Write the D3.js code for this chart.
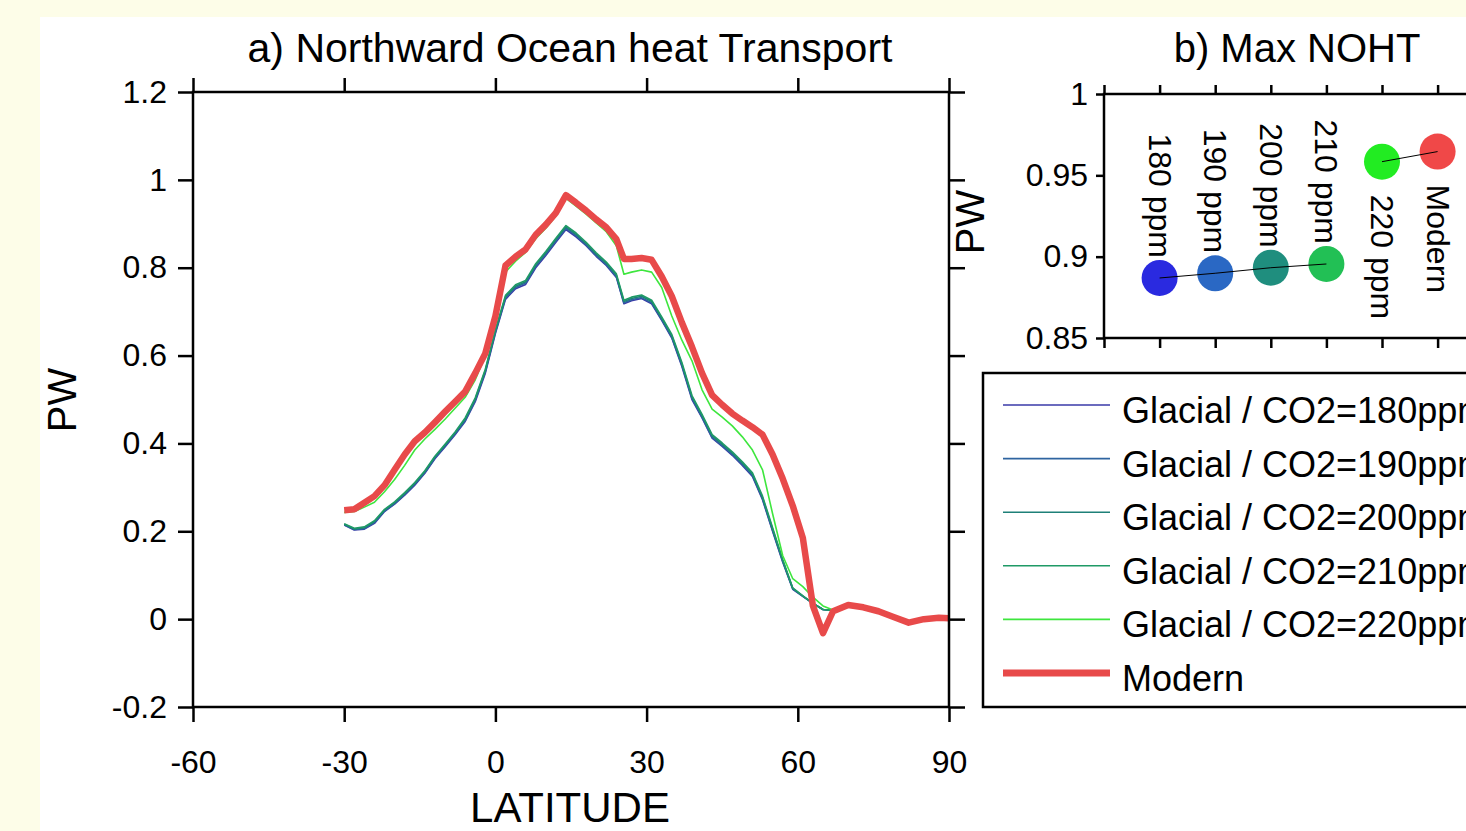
<!DOCTYPE html>
<html>
<head>
<meta charset="utf-8">
<script src="https://cdn.jsdelivr.net/npm/d3@7"></script>
<style>
body { margin: 0; background: #fdfde8; overflow: hidden; }
svg { display: block; font-family: "Liberation Sans", Arial, sans-serif; }
.axis text { font-size: 32px; fill: #000; }
.axis line { stroke: #000; stroke-width: 2.5; }
</style>
</head>
<body>
<svg id="chart" width="1466" height="831"></svg>
<script>

// latitude grid shared by all the transport curves
var latitudes = [-30,-28,-26,-24,-22,-20,-18,-16,-14,-12,-10,-8,-6,-4,-2,0,2,4,6,8,10,12,14,16,18,20,22,24,25.5,27,29,31,33,35,37,39,41,43,45,47,49,51,53,55,57,59,61,63,65,67,70,73,76,79,82,85,88,90];

var glacial180 = [0.214,0.203,0.205,0.218,0.245,0.262,0.282,0.305,0.332,0.365,0.392,0.420,0.450,0.495,0.560,0.650,0.728,0.752,0.762,0.800,0.828,0.858,0.887,0.870,0.850,0.826,0.805,0.778,0.718,0.725,0.730,0.718,0.680,0.640,0.575,0.500,0.458,0.412,0.393,0.373,0.350,0.325,0.272,0.200,0.130,0.068,0.052,0.036,0.022,0.020,0.031,0.026,0.017,0.004,-0.008,0.000,0.003,0.002];
var glacial190 = [0.215,0.204,0.206,0.220,0.246,0.263,0.284,0.307,0.334,0.367,0.394,0.422,0.452,0.498,0.563,0.653,0.731,0.755,0.765,0.803,0.831,0.861,0.890,0.873,0.852,0.828,0.807,0.780,0.720,0.727,0.732,0.720,0.682,0.642,0.578,0.503,0.460,0.414,0.395,0.375,0.352,0.327,0.274,0.202,0.132,0.069,0.052,0.036,0.022,0.020,0.031,0.026,0.017,0.004,-0.008,0.000,0.003,0.002];
var glacial200 = [0.216,0.205,0.208,0.222,0.248,0.265,0.286,0.309,0.336,0.369,0.396,0.424,0.455,0.501,0.566,0.656,0.734,0.758,0.768,0.806,0.834,0.864,0.893,0.876,0.855,0.831,0.810,0.783,0.723,0.730,0.735,0.723,0.685,0.645,0.581,0.506,0.463,0.417,0.398,0.378,0.355,0.330,0.277,0.205,0.134,0.070,0.053,0.036,0.022,0.020,0.031,0.026,0.017,0.004,-0.008,0.000,0.003,0.002];
var glacial210 = [0.217,0.207,0.210,0.224,0.250,0.267,0.288,0.311,0.338,0.371,0.398,0.426,0.458,0.504,0.569,0.659,0.737,0.761,0.771,0.809,0.837,0.867,0.896,0.879,0.858,0.834,0.813,0.786,0.726,0.733,0.738,0.726,0.688,0.648,0.584,0.509,0.466,0.420,0.401,0.381,0.358,0.333,0.280,0.208,0.136,0.071,0.053,0.036,0.022,0.020,0.031,0.026,0.017,0.004,-0.008,0.000,0.003,0.002];
var glacial220 = [0.243,0.245,0.255,0.266,0.290,0.318,0.350,0.385,0.410,0.432,0.455,0.480,0.505,0.545,0.600,0.680,0.790,0.815,0.835,0.866,0.890,0.918,0.958,0.940,0.922,0.902,0.882,0.850,0.785,0.790,0.795,0.790,0.755,0.690,0.635,0.588,0.522,0.478,0.460,0.440,0.415,0.385,0.340,0.240,0.145,0.092,0.074,0.050,0.030,0.021,0.031,0.027,0.018,0.005,-0.008,0.000,0.003,0.002];
var modern = [0.248,0.250,0.265,0.280,0.305,0.340,0.375,0.405,0.425,0.448,0.472,0.495,0.518,0.560,0.605,0.690,0.805,0.825,0.842,0.875,0.898,0.925,0.965,0.948,0.930,0.910,0.892,0.865,0.820,0.820,0.822,0.818,0.780,0.735,0.675,0.620,0.560,0.510,0.488,0.468,0.452,0.437,0.420,0.375,0.320,0.258,0.185,0.030,-0.032,0.018,0.032,0.027,0.018,0.005,-0.008,0.000,0.003,0.002];

var seriesNames = ["Glacial / CO2=180ppm", "Glacial / CO2=190ppm", "Glacial / CO2=200ppm",
    "Glacial / CO2=210ppm", "Glacial / CO2=220ppm", "Modern"];
var seriesValues = [glacial180, glacial190, glacial200, glacial210, glacial220, modern];
var lineColors = ["#3a3aa8", "#2e64a0", "#1e8078", "#1f9a66", "#3ee63e", "#e84a4a"];

// panel b: maximum northward heat transport per run
var maxLabels = ["180 ppm", "190 ppm", "200 ppm", "210 ppm", "220 ppm", "Modern"];
var maxValues = [0.8869, 0.8898, 0.8932, 0.8955, 0.9584, 0.9646];
var dotColors = ["#2a2ae0", "#2a68c4", "#1f8e7e", "#22c055", "#22ec22", "#f04848"];

var latTicks = [-60, -30, 0, 30, 60, 90];
var pwTicks = [-0.2, 0, 0.2, 0.4, 0.6, 0.8, 1, 1.2];
var maxTicks = [0.85, 0.9, 0.95, 1];

var svg = d3.select("#chart");
var fmt = function(d) { return String(Math.round(d * 100) / 100); };
var noLabel = function() { return ""; };

svg.append("rect").attr("width", 1466).attr("height", 831).attr("fill", "#fdfde8");
svg.append("rect").attr("x", 40).attr("y", 17).attr("width", 1426).attr("height", 814).attr("fill", "#fff");

function stripDomain(g) { g.select(".domain").remove(); }

// ---------- panel a ----------
var x = d3.scaleLinear().domain([-60, 90]).range([193, 949]);
var y = d3.scaleLinear().domain([-0.2, 1.2]).range([707, 92]);

svg.append("g").attr("class", "axis").attr("transform", "translate(193,0)")
    .call(d3.axisLeft(y).tickValues(pwTicks).tickSize(15).tickPadding(11).tickFormat(fmt)).call(stripDomain);
svg.append("g").attr("class", "axis").attr("transform", "translate(949,0)")
    .call(d3.axisRight(y).tickValues(pwTicks).tickSize(16).tickFormat(noLabel)).call(stripDomain);
svg.append("g").attr("class", "axis").attr("transform", "translate(0,707)")
    .call(d3.axisBottom(x).tickValues(latTicks).tickSize(15).tickPadding(28).tickFormat(fmt)).call(stripDomain);
svg.append("g").attr("class", "axis").attr("transform", "translate(0,92)")
    .call(d3.axisTop(x).tickValues(latTicks).tickSize(14).tickFormat(noLabel)).call(stripDomain);

var line = d3.line().x(function(d) { return x(d[0]); }).y(function(d) { return y(d[1]); });

svg.append("g").selectAll("path")
    .data(seriesValues)
    .enter().append("path")
    .attr("fill", "none")
    .attr("stroke", function(d, i) { return lineColors[i]; })
    .attr("stroke-width", function(d, i) { return i === 5 ? 6.5 : 1.6; })
    .attr("stroke-linejoin", "round")
    .attr("d", function(vals) { return line(latitudes.map(function(lat, j) { return [lat, vals[j]]; })); });

svg.append("rect").attr("x", 193).attr("y", 92).attr("width", 756).attr("height", 615)
    .attr("fill", "none").attr("stroke", "#000").attr("stroke-width", 2.5);

svg.append("text").attr("x", 570).attr("y", 62).attr("text-anchor", "middle")
    .style("font-size", "41px").text("a) Northward Ocean heat Transport");
svg.append("text").attr("x", 570).attr("y", 822).attr("text-anchor", "middle")
    .style("font-size", "42px").text("LATITUDE");
svg.append("text").attr("transform", "translate(76,400) rotate(-90)").attr("text-anchor", "middle")
    .style("font-size", "40px").text("PW");

// ---------- panel b ----------
var xb = d3.scaleLinear().domain([0, 7]).range([1104, 1104 + 7 * 55.6]);
var yb = d3.scaleLinear().domain([0.85, 1]).range([338, 94]);
var runIndex = d3.range(0, 8);

svg.append("g").attr("class", "axis").attr("transform", "translate(1104,0)")
    .call(d3.axisLeft(yb).tickValues(maxTicks).tickSize(8).tickPadding(8).tickFormat(fmt)).call(stripDomain);
svg.append("g").attr("class", "axis").attr("transform", "translate(0,94)")
    .call(d3.axisTop(xb).tickValues(runIndex).tickSize(9).tickFormat(noLabel)).call(stripDomain);
svg.append("g").attr("class", "axis").attr("transform", "translate(0,338)")
    .call(d3.axisBottom(xb).tickValues(runIndex).tickSize(10).tickFormat(noLabel)).call(stripDomain);

svg.append("rect").attr("x", 1104).attr("y", 94).attr("width", xb(7) - 1104).attr("height", 244)
    .attr("fill", "none").attr("stroke", "#000").attr("stroke-width", 2.5);

var maxLine = d3.line().x(function(i) { return xb(i + 1); }).y(function(i) { return yb(maxValues[i]); });

svg.append("g").selectAll("circle")
    .data(maxValues)
    .enter().append("circle")
    .attr("cx", function(d, i) { return xb(i + 1); })
    .attr("cy", function(d) { return yb(d); })
    .attr("r", 18)
    .attr("fill", function(d, i) { return dotColors[i]; });

svg.append("path").attr("d", maxLine([0, 1, 2, 3])).attr("fill", "none").attr("stroke", "#000").attr("stroke-width", 1);
svg.append("path").attr("d", maxLine([4, 5])).attr("fill", "none").attr("stroke", "#000").attr("stroke-width", 1);

svg.append("g").selectAll("text")
    .data(maxLabels)
    .enter().append("text")
    .attr("transform", function(d, i) {
        var ty = i < 4 ? yb(maxValues[i]) - 20 : yb(maxValues[i]) + 33;
        return "translate(" + (xb(i + 1) - 11) + "," + ty + ") rotate(90)";
    })
    .attr("text-anchor", function(d, i) { return i < 4 ? "end" : "start"; })
    .style("font-size", "32px")
    .text(function(d) { return d; });

svg.append("text").attr("x", 1297).attr("y", 62).attr("text-anchor", "middle")
    .style("font-size", "40px").text("b) Max NOHT");
svg.append("text").attr("transform", "translate(984,222) rotate(-90)").attr("text-anchor", "middle")
    .style("font-size", "40px").text("PW");

// ---------- legend ----------
var legend = svg.append("g");
legend.append("rect").attr("x", 983).attr("y", 373).attr("width", 600).attr("height", 334)
    .attr("fill", "#fff").attr("stroke", "#000").attr("stroke-width", 2.5);

var rows = legend.selectAll(".row")
    .data(seriesNames)
    .enter().append("g")
    .attr("class", "row")
    .attr("transform", function(d, i) { return "translate(0," + (405 + i * 53.6) + ")"; });

rows.append("line")
    .attr("x1", 1003).attr("x2", 1110)
    .attr("stroke", function(d, i) { return lineColors[i]; })
    .attr("stroke-width", function(d, i) { return i === 5 ? 7 : 1.6; });

rows.append("text")
    .attr("x", 1122).attr("y", 18)
    .style("font-size", "36px")
    .text(function(d) { return d; });

</script>
</body>
</html>
